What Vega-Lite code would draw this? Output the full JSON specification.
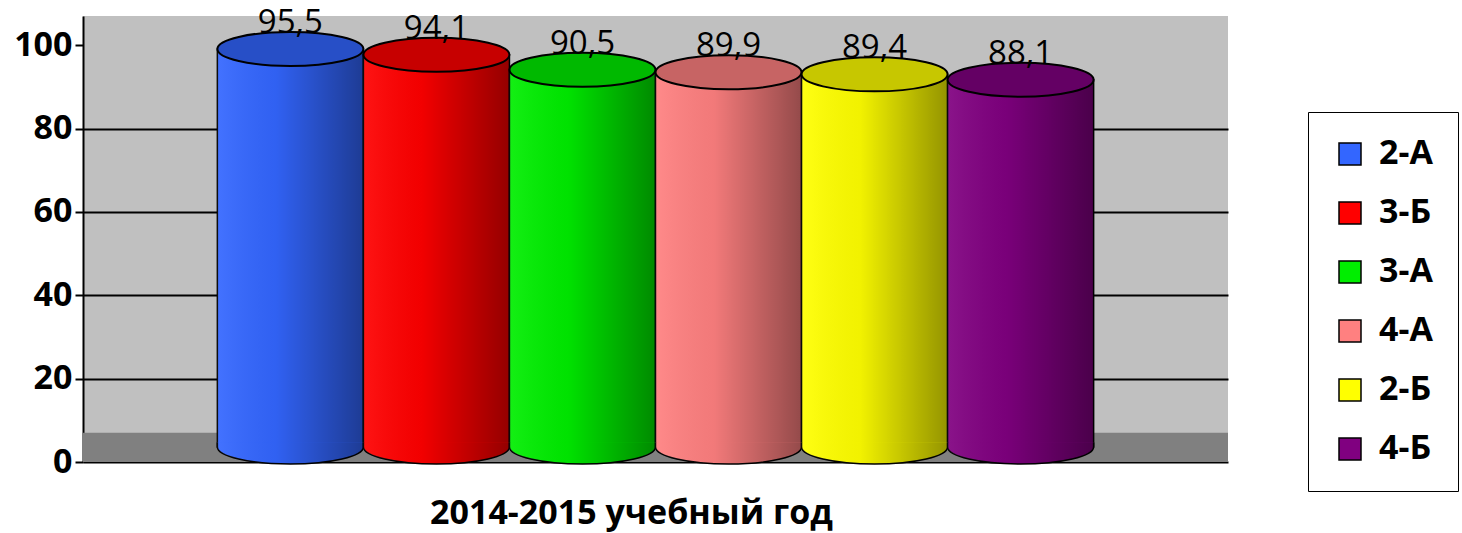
{
  "$schema": "https://vega.github.io/schema/vega-lite/v6.json",
  "width": 1145,
  "height": 446,
  "autosize": "none",
  "padding": {"left": 83, "top": 16, "right": 234, "bottom": 71},
  "background": "white",
  "config": {
    "view": {"fill": "#c0c0c0", "stroke": null},
    "font": "Open Sans",
    "locale": {"number": {"decimal": ",", "thousands": " ", "grouping": [3], "currency": ["", ""]}}
  },
  "data": {
    "values": [
      {"class": "2-А", "value": 95.5},
      {"class": "3-Б", "value": 94.1},
      {"class": "3-А", "value": 90.5},
      {"class": "4-А", "value": 89.9},
      {"class": "2-Б", "value": 89.4},
      {"class": "4-Б", "value": 88.1}
    ]
  },
  "layer": [
    {
      "data": {"values": [{}]},
      "mark": {"type": "rect", "color": "#808080"},
      "encoding": {
        "y": {"datum": 0, "type": "quantitative", "scale": {"domain": [0, 107], "nice": false},
          "axis": {"values": [0, 20, 40, 60, 80, 100], "grid": true, "title": null, "labelFontSize": 34, "labelFontWeight": "bold", "labelColor": "black", "domainColor": "black", "domainWidth": 2, "tickColor": "black", "tickWidth": 2, "tickSize": 8, "labelPadding": 3, "gridColor": "black", "gridWidth": 2, "gridOpacity": {"condition": {"test": "datum.value == 0 || datum.value == 100", "value": 0}, "value": 1}}},
        "y2": {"datum": 7}
      }
    },
    {
      "mark": {"type": "bar", "stroke": "black", "strokeWidth": 1.5, "yOffset": -15},
      "encoding": {
        "x": {"field": "class", "type": "nominal", "sort": null, "scale": {"paddingInner": 0, "paddingOuter": 0.92},
          "axis": {"title": "2014-2015 учебный год", "labels": false, "ticks": false, "domainColor": "black", "domainWidth": 2, "titleFontSize": 34, "titleFontWeight": "bold", "titleColor": "black", "titlePadding": 34, "titleX": 548}},
        "y": {"field": "value", "type": "quantitative"},
        "color": {"field": "class", "type": "nominal", "sort": null,
          "scale": {"domain": ["2-А", "3-Б", "3-А", "4-А", "2-Б", "4-Б"], "range": ["#3366ff", "#ff0000", "#00ee00", "#ff8080", "#ffff00", "#800080"]},
          "legend": {"title": null, "orient": "none", "legendX": 1225, "legendY": 96, "symbolType": "square", "symbolSize": 484, "symbolStrokeColor": "black", "symbolStrokeWidth": 1.5, "symbolOpacity": 1, "labelFontSize": 34, "labelFontWeight": "bold", "labelColor": "black", "labelOffset": 12, "rowPadding": 25, "padding": 25, "strokeColor": "black", "fillColor": "white", "cornerRadius": 0}}
      }
    },
    {
      "mark": {"type": "bar", "yOffset": -15, "fill": {"gradient": "linear", "x1": 0, "x2": 1, "y1": 0, "y2": 0, "stops": [{"offset": 0, "color": "rgba(255,255,255,0.08)"}, {"offset": 0.4, "color": "rgba(0,0,0,0.05)"}, {"offset": 1, "color": "rgba(0,0,0,0.42)"}]}},
      "encoding": {
        "x": {"field": "class", "type": "nominal", "sort": null},
        "y": {"field": "value", "type": "quantitative"}
      }
    },
    {
      "mark": {"type": "point", "shape": "M -1 -0.06 L -1 0 A 1 0.233 0 0 0 1 0 L 1 -0.06", "size": 21316, "filled": true, "opacity": 1, "stroke": "black", "strokeWidth": 1.5, "yOffset": -15},
      "encoding": {
        "x": {"field": "class", "type": "nominal", "sort": null},
        "y": {"datum": 0, "type": "quantitative"},
        "color": {"field": "class", "type": "nominal", "sort": null}
      }
    },
    {
      "mark": {"type": "point", "shape": "M -1 -0.06 L -1 0 A 1 0.233 0 0 0 1 0 L 1 -0.06", "size": 21316, "filled": true, "opacity": 1, "yOffset": -15, "fill": {"gradient": "linear", "x1": 0, "x2": 1, "y1": 0, "y2": 0, "stops": [{"offset": 0, "color": "rgba(255,255,255,0.08)"}, {"offset": 0.4, "color": "rgba(0,0,0,0.05)"}, {"offset": 1, "color": "rgba(0,0,0,0.42)"}]}},
      "encoding": {
        "x": {"field": "class", "type": "nominal", "sort": null},
        "y": {"datum": 0, "type": "quantitative"}
      }
    },
    {
      "mark": {"type": "point", "shape": "M -1 0 A 1 0.233 0 1 1 1 0 A 1 0.233 0 1 1 -1 0 Z", "size": 21316, "filled": true, "opacity": 1, "stroke": "black", "strokeWidth": 2, "yOffset": -15},
      "encoding": {
        "x": {"field": "class", "type": "nominal", "sort": null},
        "y": {"field": "value", "type": "quantitative"},
        "color": {"field": "class", "type": "nominal", "sort": null}
      }
    },
    {
      "mark": {"type": "point", "shape": "M -1 0 A 1 0.233 0 1 1 1 0 A 1 0.233 0 1 1 -1 0 Z", "size": 21316, "filled": true, "opacity": 0.22, "color": "black", "yOffset": -15},
      "encoding": {
        "x": {"field": "class", "type": "nominal", "sort": null},
        "y": {"field": "value", "type": "quantitative"}
      }
    },
    {
      "mark": {"type": "text", "fontSize": 33, "color": "black", "baseline": "middle", "dy": -41},
      "encoding": {
        "x": {"field": "class", "type": "nominal", "sort": null},
        "y": {"field": "value", "type": "quantitative"},
        "text": {"field": "value", "type": "quantitative", "format": ".1f"}
      }
    }
  ]
}
